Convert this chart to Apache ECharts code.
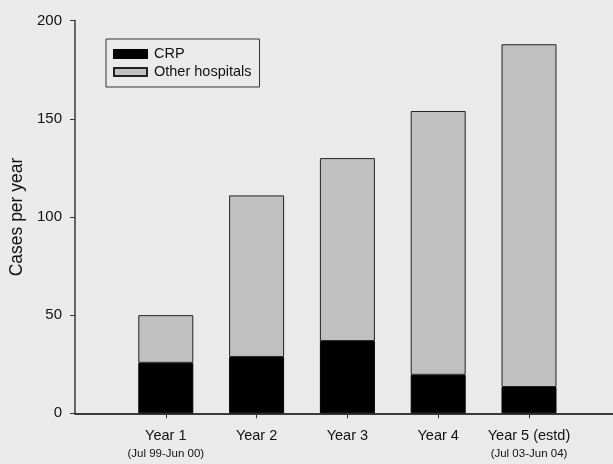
<!DOCTYPE html>
<html>
<head>
<meta charset="utf-8">
<script src="https://cdn.jsdelivr.net/npm/echarts@6/dist/echarts.min.js"></script>
<style>
html,body{margin:0;padding:0;background:#eaeaea;}
#c{width:613px;height:464px;}
</style>
</head>
<body>
<div id="c"></div>
<script>
// Categories (first and last are empty padding slots on the axis)
var categories = ['', 'Year 1', 'Year 2', 'Year 3', 'Year 4', 'Year 5 (estd)', ''];
var subLabels = ['', '(Jul 99-Jun 00)', '', '', '', '(Jul 03-Jun 04)', ''];
var crpValues = [null, 25.7, 28.7, 36.8, 19.6, 13.4, null];
var otherValues = [null, 24.3, 82.3, 93.2, 134.4, 174.6, null];
var yTicks = [0, 50, 100, 150, 200];

var chart = echarts.init(document.getElementById('c'));
var font = 'Liberation Sans, Arial, sans-serif';
chart.setOption({
  backgroundColor: '#eaeaea',
  animation: false,
  textStyle: {fontFamily: font},
  legend: {
    orient: 'vertical',
    left: 106, top: 39,
    padding: [7, 8, 7, 7],
    itemGap: 2,
    itemWidth: 33, itemHeight: 8,
    icon: 'rect',
    borderColor: '#333', borderWidth: 1,
    textStyle: {fontSize: 14.5, lineHeight: 16, color: '#111', fontFamily: font, padding: [0, 0, 0, 2]},
    data: ['CRP', 'Other hospitals']
  },
  grid: {left: 75, top: 20.7, height: 392.6, width: 544.8, outerBoundsMode: 'none', containLabel: false},
  xAxis: {
    type: 'category',
    data: categories,
    boundaryGap: false,
    axisLine: {lineStyle: {color: '#000', width: 1.5}},
    axisTick: {
      length: 5,
      lineStyle: {color: '#333'},
      interval: function (i) { return i >= 1 && i <= 5; }
    },
    axisLabel: {
      interval: 0,
      margin: 14,
      formatter: function (v, i) {
        var s = subLabels[i];
        return s ? '{a|' + v + '}\n{b|' + s + '}' : '{a|' + v + '}';
      },
      rich: {
        a: {fontSize: 14.5, color: '#111', lineHeight: 18, fontFamily: font},
        b: {fontSize: 11.5, color: '#111', lineHeight: 18, fontFamily: font}
      }
    }
  },
  yAxis: {
    type: 'value',
    min: yTicks[0], max: yTicks[yTicks.length - 1], interval: 50,
    name: 'Cases per year',
    nameLocation: 'middle',
    nameGap: 44,
    nameTextStyle: {fontSize: 17.5, color: '#111', fontFamily: font},
    axisLine: {show: true, lineStyle: {color: '#666', width: 2}},
    axisTick: {show: true, length: 5, lineStyle: {color: '#333'}},
    axisLabel: {fontSize: 15, color: '#111', margin: 13, fontFamily: font},
    splitLine: {show: false}
  },
  series: [
    {
      name: 'CRP', type: 'bar', stack: 's', barWidth: 55,
      data: crpValues,
      itemStyle: {color: '#000', borderColor: '#000', borderWidth: 1}
    },
    {
      name: 'Other hospitals', type: 'bar', stack: 's', barWidth: 55,
      data: otherValues,
      itemStyle: {color: '#c0c0c0', borderColor: '#222', borderWidth: 1}
    }
  ]
});
</script>
</body>
</html>
